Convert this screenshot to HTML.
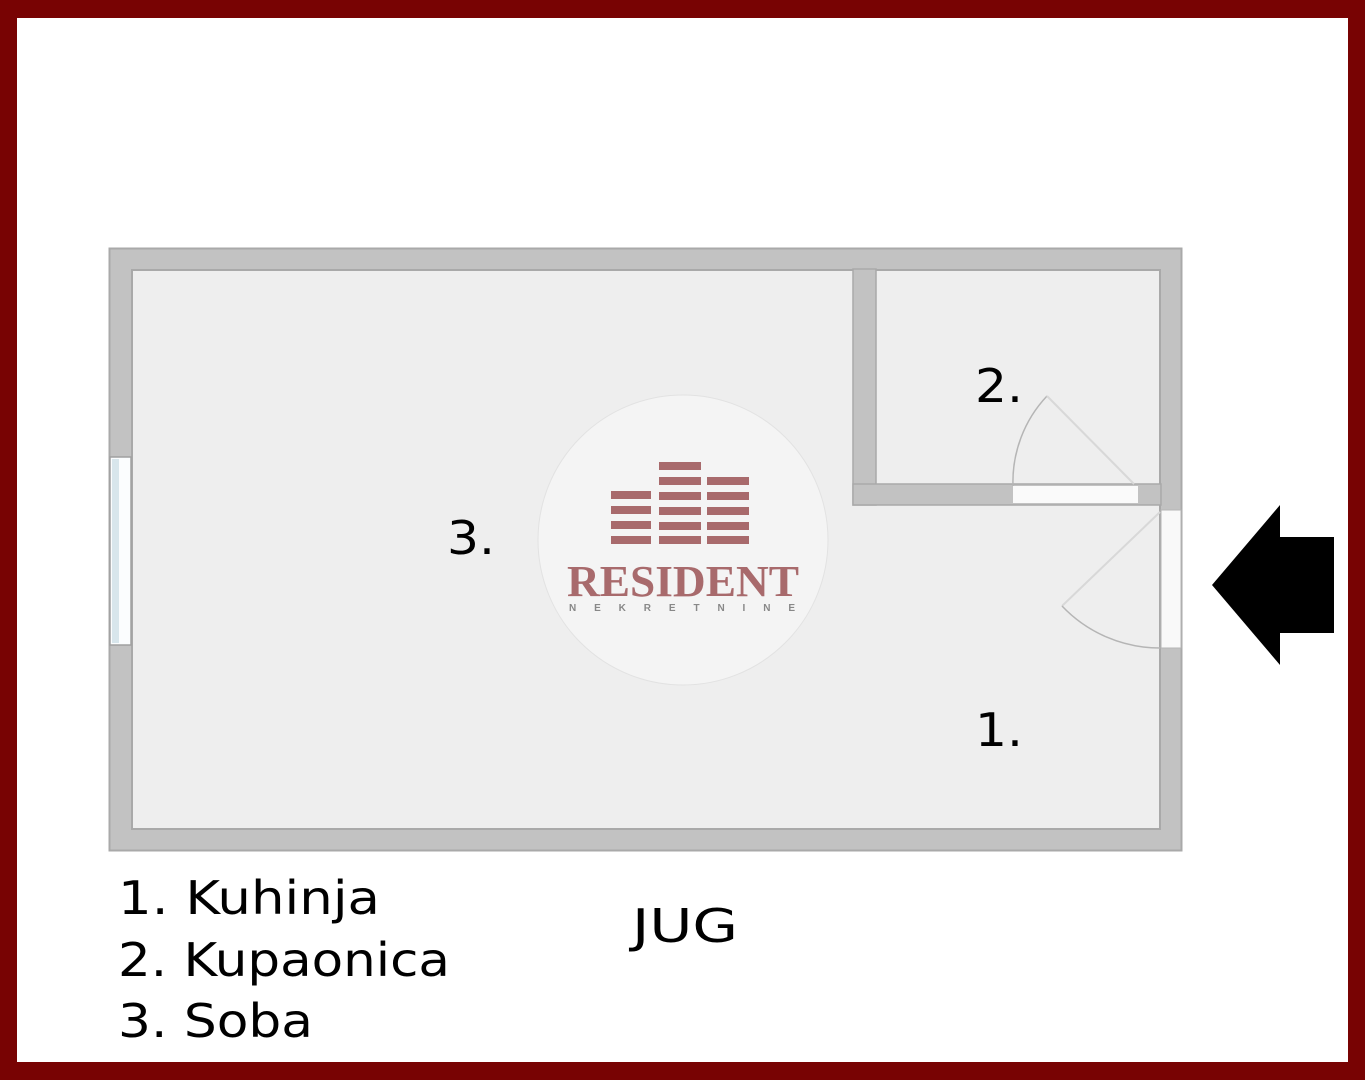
<!DOCTYPE html>
<html><head><meta charset="utf-8"><style>
html,body{margin:0;padding:0;width:1365px;height:1080px;overflow:hidden;background:#790000}
</style></head><body>
<svg width="1365" height="1080" xmlns="http://www.w3.org/2000/svg" style="display:block">
<rect x="0" y="0" width="1365" height="1080" fill="#780303"/>
<rect x="17" y="18" width="1331" height="1044" fill="#ffffff"/>
<rect x="109.5" y="248.5" width="1072" height="602" fill="#c2c2c2" stroke="#a9a9a9" stroke-width="2"/>
<rect x="132" y="270" width="1028" height="559" fill="#eeeeee" stroke="#a9a9a9" stroke-width="2"/>
<rect x="853" y="269" width="23" height="236" fill="#c2c2c2" stroke="#a9a9a9" stroke-width="1.5"/>
<rect x="853" y="484" width="308" height="21" fill="#c2c2c2" stroke="#a9a9a9" stroke-width="1.5"/>
<rect x="877" y="271" width="282" height="212" fill="#eeeeee"/>
<rect x="1013" y="486" width="125" height="17" fill="#fafafa"/>
<path d="M1013 486 A125 125 0 0 1 1047 396" fill="none" stroke="#b5b5b5" stroke-width="1.5"/>
<line x1="1047" y1="396" x2="1134" y2="484" stroke="#d8d8d8" stroke-width="2"/>
<rect x="1161" y="510" width="20" height="138" fill="#f9f9f9" stroke="#b5b5b5" stroke-width="1"/>
<line x1="1160" y1="512" x2="1062" y2="606" stroke="#d8d8d8" stroke-width="2"/>
<path d="M1062 606 A135 135 0 0 0 1160 648" fill="none" stroke="#b5b5b5" stroke-width="1.5"/>
<rect x="110" y="457" width="21" height="188" fill="#fbfdfe" stroke="#a0a0a0" stroke-width="1.5"/>
<rect x="112" y="459" width="7" height="184" fill="#d8e6ec"/>
<circle cx="683" cy="540" r="145" fill="#f4f4f4" stroke="#e2e2e2" stroke-width="1"/>
<g fill="#a86a6c">
<rect x="611" y="491" width="40" height="8"/><rect x="611" y="506" width="40" height="8"/><rect x="611" y="521" width="40" height="8"/><rect x="611" y="536" width="40" height="8"/>
<rect x="659" y="462" width="42" height="8"/><rect x="659" y="477" width="42" height="8"/><rect x="659" y="492" width="42" height="8"/><rect x="659" y="507" width="42" height="8"/><rect x="659" y="522" width="42" height="8"/><rect x="659" y="536" width="42" height="8"/>
<rect x="707" y="477" width="42" height="8"/><rect x="707" y="492" width="42" height="8"/><rect x="707" y="507" width="42" height="8"/><rect x="707" y="522" width="42" height="8"/><rect x="707" y="536" width="42" height="8"/>
</g>
<text x="683" y="596" text-anchor="middle" font-family="Liberation Serif, serif" font-size="44" font-weight="bold" fill="#a86a6c" textLength="232" lengthAdjust="spacingAndGlyphs">RESIDENT</text>
<text x="569" y="611" font-family="Liberation Sans, sans-serif" font-size="10" font-weight="bold" fill="#888" textLength="226" lengthAdjust="spacing">NEKRETNINE</text>
<polygon points="1212,585 1280,505 1280,537 1334,537 1334,633 1280,633 1280,665" fill="#000"/>
<g font-family="DejaVu Sans, sans-serif" font-size="46" fill="#000" lengthAdjust="spacingAndGlyphs">
<text x="975" y="402" textLength="48" lengthAdjust="spacingAndGlyphs">2.</text>
<text x="447" y="554" textLength="48" lengthAdjust="spacingAndGlyphs">3.</text>
<text x="975" y="746" textLength="48" lengthAdjust="spacingAndGlyphs">1.</text>
<text x="118" y="914" textLength="262" lengthAdjust="spacingAndGlyphs">1. Kuhinja</text>
<text x="118" y="976" textLength="332" lengthAdjust="spacingAndGlyphs">2. Kupaonica</text>
<text x="118" y="1037" textLength="195" lengthAdjust="spacingAndGlyphs">3. Soba</text>
<text x="632" y="942" textLength="106" lengthAdjust="spacingAndGlyphs">JUG</text>
</g>
</svg>
</body></html>
